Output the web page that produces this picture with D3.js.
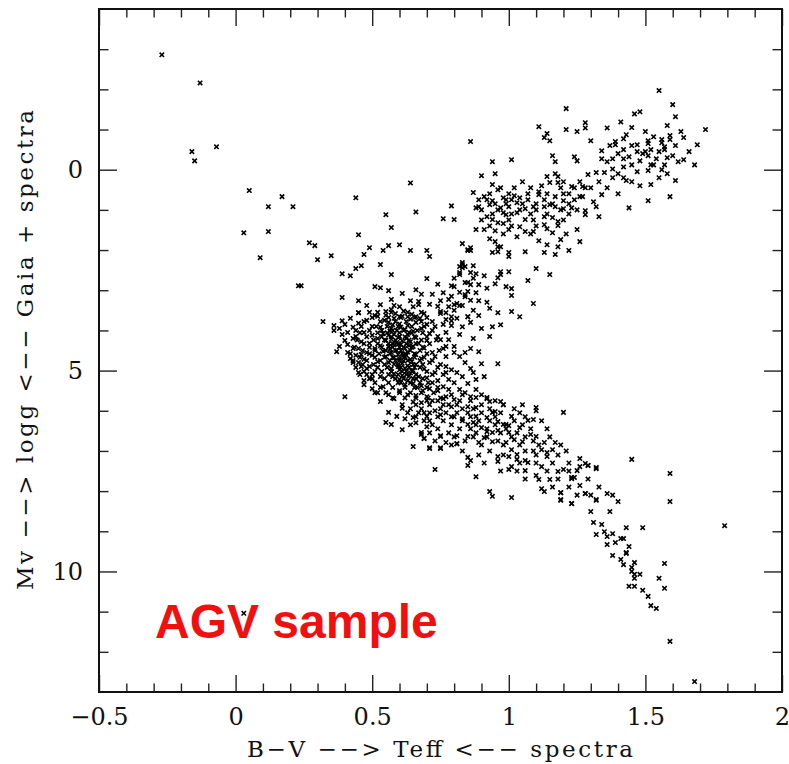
<!DOCTYPE html>
<html><head><meta charset="utf-8">
<script src="https://cdn.jsdelivr.net/npm/d3@7"></script>
<style>body{margin:0;background:#fff}</style>
</head><body>
<svg id="c" width="789" height="764"></svg>
<script>
// B-V, Mv pairs
const hotStars = [[-0.27,-2.86],[-0.13,-2.16],[-0.16,-0.45],[-0.15,-0.22],[-0.07,-0.57],[0.05,0.52],[0.03,1.57],[0.12,0.92],[0.17,0.67],[0.21,0.92],[0.12,1.54],[0.09,2.19],[0.23,2.89],[0.03,11.04]];

const upperMS = [[0.64,0.33],[0.44,0.70],[0.79,0.90],[0.66,1.05],[0.55,1.12],[0.76,1.22],[0.80,1.24],[0.57,1.44],[0.45,1.62],[0.27,1.82],[0.29,1.89],[0.60,1.87],[0.56,1.89],[0.49,1.94],[0.54,2.01],[0.64,2.01],[0.70,2.01],[0.85,2.01],[0.71,2.16],[0.47,2.11],[0.35,2.14],[0.30,2.24],[0.46,2.39],[0.44,2.46],[0.53,2.36],[0.83,2.36],[0.83,2.44],[0.82,2.56],[0.39,2.59],[0.42,2.64],[0.57,2.61],[0.70,2.71],[0.85,2.81],[0.24,2.89],[0.51,2.91],[0.53,2.94],[0.56,3.01],[0.66,2.99],[0.61,3.08],[0.84,3.11],[0.39,3.18],[0.45,3.26],[0.57,3.23],[0.64,3.26],[0.67,3.28],[0.75,3.26],[0.48,3.38],[0.53,3.36],[0.58,3.38],[0.60,3.41],[0.65,3.41],[0.67,3.36],[0.80,3.36],[0.82,3.38],[0.45,3.56],[0.51,3.63],[0.55,3.53],[0.57,3.48],[0.60,3.66],[0.63,3.66],[0.66,3.66],[0.69,3.58],[0.75,3.58],[0.79,3.66],[0.85,3.66]];

const giantBranch = [[1.21,-1.52],[1.11,-1.07],[1.21,-1.00],[1.25,-0.95],[1.14,-0.90],[1.13,-0.80],[1.15,-0.72],[0.86,-0.70],[0.94,-0.20],[1.01,-0.25],[1.16,-0.35],[1.17,-0.20],[1.24,-0.32],[1.25,-0.22],
[1.55,-1.97],[1.60,-1.62],[1.61,-1.32],[1.72,-1.00],[1.46,-1.39],[1.48,-1.44],[1.41,-1.19],[1.28,-1.17],[1.28,-1.04],[1.36,-1.04],[1.43,-0.87],[1.42,-0.77],[1.30,-0.72],[1.64,-0.80],[1.59,-0.85],[1.59,-0.75],[1.56,-0.75],[1.56,-0.67],[1.51,-0.72],[1.51,-0.65],[1.47,-0.62],[1.39,-0.70],[1.39,-0.62],[1.37,-0.60],[1.42,-0.50],[1.69,-0.62],[1.57,-0.57],[1.57,-0.50],[1.34,-0.47],[1.50,-0.45],[1.52,-0.50],[1.55,-0.45],[1.49,-0.40],[1.51,-0.35],[1.44,-0.32],[1.42,-0.27],[1.38,-0.27],[1.34,-0.27],[1.58,-0.30],[1.48,-0.22],[1.54,-0.27],[1.62,-0.20],[1.68,-0.12],[1.52,-0.12],[1.53,-0.12],[1.57,-0.12],[1.38,-0.02],[1.42,-0.07],[1.51,0.02],[1.56,0.00],[1.29,0.12],[1.32,0.07],[1.35,0.07],[1.38,0.20],[1.42,0.20],[1.43,0.27],[1.61,0.27],[1.48,0.40],[1.52,0.37],[1.27,0.42],[1.28,0.45],[1.30,0.45],[1.34,0.62],[1.27,0.67],[1.59,0.67],[1.51,0.77],[1.32,0.92],[1.44,0.95],[1.28,1.12],[1.33,1.17],
[1.45,-1.05],[1.50,-0.95],[1.58,-1.10],[1.63,-0.95],[1.53,-0.82],[1.45,-0.60],[1.61,-0.60],[1.66,-0.45],[1.47,-0.45],[1.40,-0.40],[1.36,-0.20],[1.45,-0.12],[1.60,-0.35],[1.64,-0.25],[1.47,0.05],[1.58,0.10],[1.40,0.10],[1.33,0.30],[1.45,0.30],[1.55,0.20],[1.36,0.45],[1.40,0.60],[1.31,0.80]];

const redClump = [[0.95,0.10],[0.90,0.15],[1.17,0.10],[1.18,0.17],[1.14,0.17],[0.94,0.37],[0.97,0.45],[1.12,0.40],[1.15,0.32],[1.18,0.32],[1.23,0.42],[0.87,0.57],[0.96,0.50],[1.11,0.55],[1.11,0.62],[1.22,0.60],[1.17,0.67],[1.26,0.67],[0.91,0.67],[0.89,0.75],[0.94,0.77],[0.98,0.70],[0.99,0.75],[1.02,0.65],[1.04,0.70],[0.99,0.85],[1.00,0.92],[1.03,0.82],[1.10,0.85],[1.20,0.77],[0.88,0.95],[0.89,0.92],[0.93,0.87],[0.97,0.95],[1.06,0.97],[1.09,0.92],[1.13,0.92],[1.15,0.87],[1.17,0.92],[1.20,0.97],[1.23,0.95],[1.25,1.00],[1.28,1.02],[0.92,1.17],[0.94,1.24],[0.98,1.07],[0.99,1.12],[1.03,1.07],[1.06,1.24],[1.13,1.17],[1.16,1.19],[1.18,1.29],[0.96,1.32],[0.98,1.34],[1.04,1.42],[1.06,1.54],[1.09,1.54],[1.13,1.37],[1.14,1.47],[1.18,1.39],[1.16,1.57],[0.88,1.49],[0.91,1.49],[0.95,1.52],[1.00,1.49],[1.03,1.67],[1.25,1.49],[1.26,1.79],[1.11,1.77],[1.14,1.87],[1.18,1.92],[1.19,1.74],[0.93,1.72],[0.83,1.84],[0.86,1.94],[0.96,1.92],
[1.05,0.30],[1.20,0.30],[1.26,0.30],[1.02,0.45],[1.08,0.45],[1.19,0.45],[1.24,0.45],[0.93,0.60],[1.00,0.60],[1.07,0.60],[1.14,0.60],[1.20,0.60],[0.92,0.75],[1.01,0.75],[1.07,0.75],[1.13,0.75],[1.24,0.75],[0.95,0.85],[1.05,0.85],[1.16,0.85],[1.22,0.85],[0.90,1.00],[0.96,1.00],[1.04,1.00],[1.10,1.00],[1.19,1.00],[0.94,1.10],[1.01,1.10],[1.08,1.10],[1.14,1.10],[1.22,1.10],[0.90,1.25],[1.00,1.25],[1.09,1.25],[1.20,1.25],[0.93,1.40],[1.01,1.40],[1.10,1.40],[0.98,1.60],[1.08,1.60],[1.21,1.60]];

const subgiants = [[0.85,1.99],[0.86,2.01],[0.95,1.79],[0.97,1.92],[0.94,2.06],[0.96,2.04],[1.00,2.06],[1.00,2.16],[1.06,2.04],[1.13,2.06],[1.17,2.11],[1.22,2.01],[0.83,2.31],[0.82,2.41],[0.84,2.41],[0.87,2.39],[0.82,2.61],[0.86,2.56],[0.88,2.59],[0.91,2.64],[0.97,2.54],[0.97,2.61],[0.96,2.69],[1.00,2.54],[1.10,2.46],[1.15,2.61],[1.07,2.76],[0.79,2.89],[0.80,2.91],[0.84,2.81],[0.86,2.86],[0.89,2.86],[0.95,2.84],[0.99,2.91],[1.01,2.96],[0.76,3.06],[0.85,3.03],[0.88,3.06],[0.89,3.26],[0.84,3.16],[1.01,3.13],[0.78,3.23],[0.81,3.33],[0.83,3.38],[0.78,3.41],[1.09,3.33],[0.75,3.53],[0.77,3.56],[0.85,3.66],[0.89,3.63],[0.96,3.56],[1.01,3.53],[1.04,3.66],[0.77,3.73],[0.79,3.76],[0.79,3.88],[0.83,3.91],[0.94,3.91],[0.97,3.86],[0.75,4.23],[0.78,4.23],[0.77,4.40],[0.80,4.40],[0.86,4.45],[0.84,4.55],[0.82,4.65],[0.89,4.53],[0.77,4.65],[0.90,4.83],[0.96,4.83],[0.77,4.90],[0.79,4.98],[0.81,5.05],[0.86,4.95],[0.87,5.05],[0.76,5.10],[0.78,5.22],[0.83,5.15],[0.88,5.22],[0.80,5.30],[0.85,5.32],[0.76,5.40],[0.78,5.47],[0.82,5.47],[0.88,5.47],[0.84,5.55],[0.86,5.65],[0.88,5.67],[0.77,5.65],[0.80,5.72],[0.92,5.70],[0.93,5.77],[0.97,5.77],[0.98,5.85],[1.05,5.85],[1.10,5.92],[0.85,5.90],[0.79,5.90],[0.88,5.92],
[0.80,2.70],[0.87,2.70],[0.92,2.95],[0.82,3.05],[0.79,3.15],[0.86,3.25],[0.92,3.30],[0.80,3.50],[0.87,3.50],[0.93,3.45],[0.76,3.85],[0.81,3.70],[0.86,3.80],[0.90,3.95],[0.77,4.05],[0.82,4.10],[0.87,4.20],[0.93,4.15],[0.80,4.55],[0.84,4.80],[0.91,5.15],[0.74,3.40],[0.72,3.10],[0.74,2.85],[0.68,3.10],[0.71,3.35]];

const core = [[0.55,3.62],[0.58,3.70],[0.61,3.65],[0.64,3.72],[0.56,3.80],[0.60,3.84],[0.63,3.88],[0.66,3.80],[0.53,3.92],[0.57,3.95],[0.59,4.00],[0.62,3.98],[0.65,4.02],[0.68,3.95],[0.54,4.08],[0.56,4.12],[0.58,4.10],[0.60,4.15],[0.63,4.10],[0.66,4.18],[0.52,4.20],[0.55,4.25],[0.57,4.22],[0.59,4.30],[0.61,4.26],[0.64,4.28],[0.67,4.32],[0.53,4.38],[0.56,4.40],[0.58,4.36],[0.60,4.42],[0.62,4.45],[0.65,4.40],[0.69,4.44],[0.54,4.52],[0.57,4.55],[0.59,4.50],[0.61,4.58],[0.63,4.54],[0.66,4.60],[0.55,4.65],[0.58,4.68],[0.60,4.70],[0.62,4.66],[0.64,4.72],[0.68,4.70],[0.56,4.80],[0.58,4.84],[0.61,4.82],[0.63,4.88],[0.66,4.85],[0.57,4.95],[0.60,4.98],[0.62,4.94],[0.65,5.00],[0.69,4.96],[0.58,5.08],[0.61,5.12],[0.64,5.06],[0.67,5.15],[0.60,5.22],[0.63,5.25],[0.66,5.20],[0.70,5.18],[0.62,5.35],[0.65,5.32],[0.68,5.38],[0.72,5.30],
[0.545,3.75],[0.575,3.86],[0.605,3.92],[0.635,4.05],[0.595,4.18],[0.625,4.20],[0.575,4.33],[0.605,4.35],[0.635,4.38],[0.565,4.46],[0.595,4.60],[0.625,4.62],[0.585,4.75],[0.615,4.76],[0.645,4.78],[0.595,4.90],[0.625,5.02],[0.655,4.92],[0.575,5.15],[0.635,5.14],[0.595,5.30],[0.655,5.42],[0.685,5.50],[0.71,5.45],[0.565,4.02],[0.585,3.58],[0.615,3.52],[0.645,3.60],[0.675,3.70],[0.70,3.85],[0.71,4.08],[0.70,4.25],[0.72,4.55],[0.71,4.80],[0.73,5.05],[0.74,5.25],
[0.42,3.70],[0.45,3.82],[0.48,3.75],[0.50,3.90],[0.44,4.00],[0.47,4.05],[0.50,4.12],[0.43,4.20],[0.46,4.28],[0.49,4.32],[0.51,4.45],[0.45,4.45],[0.48,4.55],[0.50,4.62],[0.47,4.72],[0.52,4.78],[0.49,4.90],[0.51,5.02],[0.53,5.15],[0.50,5.20],[0.48,5.10],[0.54,5.40],[0.52,5.55],[0.46,4.90],[0.44,4.62],[0.41,4.35],[0.39,4.10],[0.38,3.95],[0.52,3.65],[0.49,3.55],
[0.73,3.90],[0.74,4.15],[0.76,4.45],[0.73,4.65],[0.75,4.85],[0.77,5.05],[0.74,5.50],[0.76,5.70],[0.78,5.85],[0.72,5.75],[0.73,6.00],[0.75,6.10],[0.79,6.15],[0.81,6.05],[0.83,6.20],[0.70,5.65],[0.68,5.80],[0.66,5.62],[0.69,6.05],[0.71,6.25],
[0.60,5.50],[0.63,5.60],[0.65,5.78],[0.61,5.85],[0.64,5.95],[0.67,6.05],[0.62,6.20],[0.66,6.30],[0.70,6.40],[0.58,5.70],[0.56,5.60],
[0.32,3.78],[0.36,3.88],[0.39,3.76],[0.37,4.53],[0.41,4.55],[0.43,4.80],[0.40,5.65],[0.45,3.56],[0.53,5.77],[0.47,5.25],[0.51,5.55],[0.56,6.04],[0.55,6.29],[0.57,6.34],[0.61,6.47],[0.59,6.14],[0.61,5.94],[0.65,6.17],[0.70,6.14],[0.68,6.59],[0.69,6.69],[0.65,6.89],[0.75,6.62],[0.81,6.62],[0.81,6.82],[0.71,6.92],[0.75,6.92],
[0.40,3.85],[0.43,3.92],[0.41,4.05],[0.44,4.15],[0.40,4.25],[0.43,4.45],[0.46,4.60],[0.42,4.70],[0.45,4.80],[0.48,4.95],[0.47,5.35],[0.36,4.00],[0.38,4.40],[0.50,5.45],[0.45,5.05]];

const coreDense = [[0.52,3.55],[0.57,3.55],[0.63,3.55],[0.68,3.55],
[0.50,3.68],[0.56,3.68],[0.605,3.68],[0.655,3.68],[0.70,3.68],
[0.47,3.78],[0.53,3.78],[0.585,3.78],[0.625,3.78],[0.68,3.78],[0.72,3.78],
[0.46,3.90],[0.515,3.90],[0.555,3.90],[0.595,3.90],[0.645,3.90],[0.69,3.90],
[0.49,4.00],[0.535,4.00],[0.575,4.00],[0.615,4.00],[0.665,4.00],[0.72,4.00],
[0.455,4.06],[0.52,4.06],[0.555,4.06],[0.60,4.06],[0.645,4.06],[0.685,4.06],
[0.48,4.16],[0.535,4.16],[0.57,4.16],[0.62,4.16],[0.655,4.16],[0.70,4.16],
[0.445,4.24],[0.505,4.24],[0.545,4.24],[0.585,4.24],[0.635,4.24],[0.68,4.24],[0.735,4.24],
[0.47,4.33],[0.52,4.33],[0.56,4.33],[0.595,4.33],[0.625,4.33],[0.66,4.33],[0.71,4.33],
[0.435,4.42],[0.49,4.42],[0.535,4.42],[0.575,4.42],[0.615,4.42],[0.645,4.42],[0.685,4.42],
[0.465,4.50],[0.51,4.50],[0.55,4.50],[0.585,4.50],[0.605,4.50],[0.64,4.50],[0.675,4.50],[0.745,4.50],
[0.42,4.58],[0.49,4.58],[0.525,4.58],[0.565,4.58],[0.62,4.58],[0.655,4.58],[0.70,4.58],
[0.455,4.67],[0.51,4.67],[0.545,4.67],[0.575,4.67],[0.615,4.67],[0.655,4.67],[0.69,4.67],
[0.43,4.75],[0.48,4.75],[0.53,4.75],[0.565,4.75],[0.60,4.75],[0.63,4.75],[0.675,4.75],[0.72,4.75],
[0.465,4.85],[0.505,4.85],[0.545,4.85],[0.595,4.85],[0.65,4.85],[0.685,4.85],
[0.44,4.92],[0.52,4.92],[0.555,4.92],[0.605,4.92],[0.635,4.92],[0.675,4.92],[0.74,4.92],
[0.47,5.02],[0.535,5.02],[0.57,5.02],[0.61,5.02],[0.645,5.02],[0.70,5.02],
[0.455,5.10],[0.50,5.10],[0.56,5.10],[0.595,5.10],[0.625,5.10],[0.66,5.10],[0.72,5.10],
[0.49,5.20],[0.545,5.20],[0.585,5.20],[0.615,5.20],[0.65,5.20],[0.685,5.20],
[0.51,5.30],[0.56,5.30],[0.605,5.30],[0.64,5.30],[0.675,5.30],[0.705,5.30],
[0.53,5.42],[0.575,5.42],[0.62,5.42],[0.665,5.42],[0.70,5.42],[0.74,5.42],
[0.55,5.55],[0.60,5.55],[0.64,5.55],[0.68,5.55],[0.725,5.55],
[0.575,5.68],[0.62,5.68],[0.66,5.68],[0.705,5.68],[0.75,5.68]];

const mainSeq = [[1.10,6.00],[1.20,6.04],[1.07,6.24],[1.09,6.22],[1.01,6.14],[1.04,6.42],[1.00,6.37],[0.98,6.34],[0.96,6.49],[1.00,6.54],[1.08,6.59],[1.10,6.64],[1.05,6.77],[1.02,6.72],[0.99,6.79],[1.13,6.79],[1.17,6.79],[1.12,6.97],[1.16,6.97],[1.14,7.04],[1.14,7.14],[1.01,6.97],[1.03,7.09],[1.00,7.14],[0.96,7.14],[0.96,7.26],[1.03,7.21],[1.06,7.24],[1.07,7.29],[1.01,7.39],[1.00,7.46],[1.06,7.49],[1.12,7.39],[1.10,7.61],[1.11,7.71],[1.15,7.71],[1.18,7.51],[1.20,7.46],[1.26,7.19],[1.28,7.31],[1.29,7.36],[1.32,7.44],[1.25,7.49],[1.26,7.39],[1.23,7.66],[1.24,7.66],[1.26,7.86],[1.12,7.94],[1.13,8.01],[1.19,8.04],[1.19,8.21],[1.23,8.31],[1.28,8.06],[1.32,8.21],[1.30,8.51],[1.31,8.78],[0.93,8.01],[0.94,8.13],[1.01,8.16],[0.88,7.64],[0.85,7.16],[0.86,7.24],[0.85,7.36],[0.73,7.46],[0.71,6.94],[0.75,6.94],[0.77,6.79],[0.81,6.82],[0.85,6.64],[0.89,6.79],[0.68,6.54],[0.69,6.69],[0.75,6.64],[0.91,6.67],[0.94,6.77],[0.94,6.54],[0.92,6.52],[0.96,6.27],[0.99,6.34],[0.92,6.17],[0.94,6.04],[0.98,5.85],[0.92,5.67],[0.95,6.02],[0.87,6.29],[0.85,6.34],[0.88,6.14],[0.90,6.42],
[1.29,7.36],[1.32,7.41],[1.45,7.21],[1.59,7.56],[1.23,7.69],[1.19,8.04],[1.28,8.06],[1.36,8.06],[1.19,8.23],[1.23,8.31],[1.32,8.23],[1.40,8.26],[1.59,8.26],[1.37,8.51],[1.34,8.83],[1.35,9.01],[1.32,9.08],[1.38,9.06],[1.36,9.13],[1.43,8.91],[1.49,8.91],[1.79,8.86],[1.36,9.33],[1.39,9.28],[1.41,9.18],[1.42,9.18],[1.44,9.38],[1.38,9.60],[1.41,9.70],[1.42,9.83],[1.43,9.53],[1.43,9.55],[1.46,9.78],[1.45,9.90],[1.45,10.00],[1.46,10.07],[1.46,10.17],[1.48,10.07],[1.44,10.37],[1.46,10.37],[1.49,10.47],[1.51,10.62],[1.52,10.85],[1.54,10.92],[1.57,9.80],[1.55,10.17],[1.57,10.42],[1.59,11.74],[1.68,12.74]];

const msDense = [[0.79,5.60],[0.83,5.60],[0.90,5.60],
[0.70,5.75],[0.74,5.75],[0.82,5.75],[0.86,5.75],[0.95,5.75],
[0.66,5.85],[0.71,5.85],[0.76,5.85],[0.81,5.85],[0.90,5.85],
[0.68,5.95],[0.75,5.95],[0.83,5.95],[0.87,5.95],[0.93,5.95],[1.02,5.95],
[0.63,6.05],[0.71,6.05],[0.77,6.05],[0.85,6.05],[0.90,6.05],[0.97,6.05],[1.04,6.05],
[0.66,6.15],[0.74,6.15],[0.80,6.15],[0.86,6.15],[0.95,6.15],[1.06,6.15],
[0.69,6.25],[0.76,6.25],[0.83,6.25],[0.89,6.25],[0.93,6.25],[1.02,6.25],[1.12,6.25],
[0.64,6.35],[0.72,6.35],[0.79,6.35],[0.88,6.35],[0.95,6.35],[1.05,6.35],
[0.74,6.45],[0.82,6.45],[0.86,6.45],[0.92,6.45],[0.99,6.45],[1.08,6.45],[1.14,6.45],
[0.71,6.55],[0.78,6.55],[0.88,6.55],[0.97,6.55],[1.03,6.55],
[0.80,6.65],[0.87,6.65],[0.92,6.65],[1.01,6.65],[1.06,6.65],[1.15,6.65],
[0.73,6.75],[0.84,6.75],[0.96,6.75],[1.09,6.75],
[0.79,6.85],[0.90,6.85],[0.98,6.85],[1.04,6.85],[1.11,6.85],[1.19,6.85],
[0.83,7.00],[0.93,7.00],[1.06,7.00],[1.09,7.00],[1.21,7.00],
[0.89,7.10],[0.98,7.10],[1.10,7.10],[1.18,7.10],
[0.91,7.30],[1.04,7.30],[1.10,7.30],[1.16,7.30],[1.22,7.30],
[0.97,7.50],[1.03,7.50],[1.14,7.50],[1.22,7.50],
[1.06,7.70],[1.18,7.70],[1.29,7.70],
[1.16,7.90],[1.22,7.90],[1.33,7.90],
[1.25,8.10],[1.30,8.10],[1.38,8.10]];

const groups = [hotStars, upperMS, giantBranch, redClump, subgiants, core, coreDense, mainSeq, msDense];

const xMajor = [-0.5, 0, 0.5, 1, 1.5, 2];
const xTickLabels = ["\u22120.5", "0", "0.5", "1", "1.5", "2"];
const yMajor = [0, 5, 10];
const yTickLabels = ["0", "5", "10"];
const xTitle = "B\u2212V \u2212\u2212> Teff <\u2212\u2212 spectra";
const yTitle = "Mv \u2212\u2212> logg <\u2212\u2212 Gaia + spectra";
const note = "AGV sample";

const svg = d3.select("#c");
const L = 99, R = 782, T = 9, B = 692;
const x = d3.scaleLinear().domain([-0.5, 2]).range([L, R]);
const y = d3.scaleLinear().domain([-4, 13]).range([T, B]);

const xMinor = d3.range(-4, 20).map(i => i / 10).filter(v => Math.abs(v * 2 - Math.round(v * 2)) > 1e-6);
const yMinor = d3.range(-3, 13).filter(v => v % 5 !== 0);

const serif = "'DejaVu Serif', serif";
function style(g) {
  g.select(".domain").remove();
  g.selectAll(".tick line").attr("stroke", "#222").attr("stroke-width", 1.4);
  g.selectAll("text").attr("font-family", serif).attr("font-size", 24).attr("fill", "#111");
}
svg.append("g").attr("transform", `translate(0,${B})`)
  .call(d3.axisBottom(x).tickValues(xMinor).tickSize(-8.5).tickFormat("")).call(style);
svg.append("g").attr("transform", `translate(0,${B})`)
  .call(d3.axisBottom(x).tickValues(xMajor).tickSize(-17).tickPadding(16).tickFormat((d, i) => xTickLabels[i])).call(style);
svg.append("g").attr("transform", `translate(0,${T})`)
  .call(d3.axisTop(x).tickValues(xMinor).tickSize(-8.5).tickFormat("")).call(style);
svg.append("g").attr("transform", `translate(0,${T})`)
  .call(d3.axisTop(x).tickValues(xMajor).tickSize(-17).tickFormat("")).call(style);
svg.append("g").attr("transform", `translate(${L},0)`)
  .call(d3.axisLeft(y).tickValues(yMinor).tickSize(-9.5).tickFormat("")).call(style);
svg.append("g").attr("transform", `translate(${L},0)`)
  .call(d3.axisLeft(y).tickValues(yMajor).tickSize(-18).tickPadding(16).tickFormat((d, i) => yTickLabels[i])).call(style);
svg.append("g").attr("transform", `translate(${R},0)`)
  .call(d3.axisRight(y).tickValues(yMinor).tickSize(-9.5).tickFormat("")).call(style);
svg.append("g").attr("transform", `translate(${R},0)`)
  .call(d3.axisRight(y).tickValues(yMajor).tickSize(-18).tickFormat("")).call(style);

svg.append("rect").attr("x", L).attr("y", T).attr("width", R - L).attr("height", B - T)
  .attr("fill", "none").attr("stroke", "#111").attr("stroke-width", 2);

const pts = groups.flat();
svg.append("g").selectAll("path").data(pts).join("path")
  .attr("transform", d => `translate(${x(d[0])},${y(d[1])})`)
  .attr("d", "M-2.2,-2.2L2.2,2.2M-2.2,2.2L2.2,-2.2")
  .attr("stroke", "#000").attr("stroke-width", 1.6).attr("fill", "none");

svg.append("text").attr("x", 440).attr("y", 757).attr("text-anchor", "middle")
  .attr("font-family", serif).attr("font-size", 23).attr("fill", "#111")
  .attr("textLength", 386).attr("lengthAdjust", "spacing").text(xTitle);
svg.append("text").attr("transform", "translate(33,350) rotate(-90)").attr("text-anchor", "middle")
  .attr("font-family", serif).attr("font-size", 23).attr("fill", "#111")
  .attr("textLength", 480).attr("lengthAdjust", "spacing").text(yTitle);

svg.append("text").attr("x", 155).attr("y", 638)
  .attr("font-family", "'Liberation Sans', Arial, sans-serif").attr("font-weight", "bold")
  .attr("font-size", 48).attr("fill", "#f01010").text(note);
</script>
</body></html>
